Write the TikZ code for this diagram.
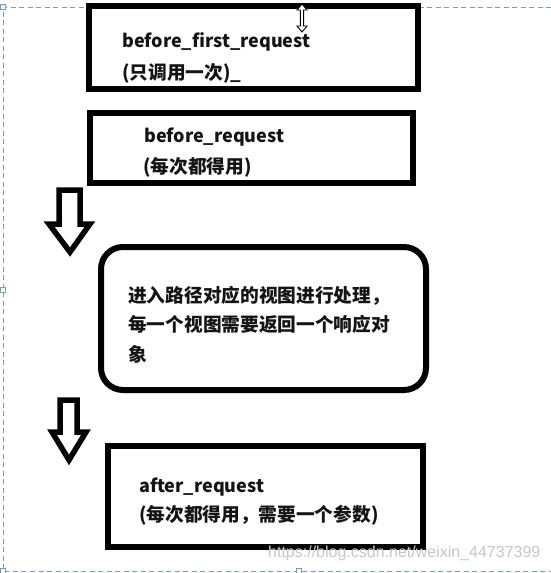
\documentclass[tikz,border=0pt]{standalone}
\usepackage{fontspec}
\newfontfamily\cjk{Noto Sans CJK SC}
\newfontfamily\wmfont{Liberation Sans}
\definecolor{selblue}{RGB}{120,155,190}
\definecolor{inkc}{RGB}{20,20,20}
\begin{document}
\begin{tikzpicture}[x=1pt,y=-1pt,
  boxstyle/.style={draw=black, line width=6pt, fill=white, inner sep=0pt},
  lat/.style={font=\cjk\bfseries\fontsize{18}{21}\selectfont, anchor=base west, inner sep=0pt, text=inkc},
  zh/.style={font=\cjk\bfseries\fontsize{18.7}{22}\selectfont, anchor=base west, inner sep=0pt, text=inkc},
  blockarrow/.style={draw=black, line width=5.5pt, line join=miter, fill=white},
  selframe/.style={draw=selblue, dash pattern=on 5pt off 3.5pt, line width=0.8pt},
  handle/.style={draw=selblue, fill=white, line width=0.7pt, minimum size=5pt, inner sep=0pt},
  wmark/.style={font=\wmfont\fontsize{16}{19}\selectfont, text=black!22, anchor=west, inner sep=0pt}
]
\useasboundingbox (0,0) rectangle (551,573);
\fill[white] (0,0) rectangle (551,573);
% selection frame
\draw[selframe] (551,7) -- (3,7) -- (3,571) -- (551,571);
% boxes
\node[boxstyle, minimum width=329pt, minimum height=83pt] (b1) at (253.5,47.5) {};
\node[boxstyle, minimum width=323pt, minimum height=70pt] (b2) at (251.5,148) {};
\node[boxstyle, rounded corners=22pt, minimum width=325pt, minimum height=143pt] (b3) at (263.5,318.5) {};
\node[boxstyle, minimum width=315pt, minimum height=101pt] (b4) at (265.5,496.5) {};
% texts
\node[lat] (t1a) at (122,47) {before\_first\_request};
\node[zh]  (t1b) at (122,79) {(只调用一次)\_};
\node[lat] (t2a) at (144,142) {before\_request};
\node[zh]  (t2b) at (143,173) {(每次都得用)};
\node[zh]  (t3a) at (128,302) {进入路径对应的视图进行处理，};
\node[zh]  (t3b) at (128,331) {每一个视图需要返回一个响应对};
\node[zh]  (t3c) at (128,361) {象};
\node[lat] (t4a) at (139,492) {after\_request};
\node[zh]  (t4b) at (139,521) {(每次都得用，需要一个参数)};
% block arrows
\coordinate (a1) at (70,190);
\draw[blockarrow] (59,190) -- (80,190) -- (80,224) -- (90,224) -- (70,252) -- (49,224) -- (59,224) -- cycle;
\coordinate (a2) at (69,400);
\draw[blockarrow] (60,400) -- (77,400) -- (77,432) -- (86,432) -- (69,460) -- (52,432) -- (60,432) -- cycle;
% resize cursor
\draw[fill=white, line width=0.9pt, line join=miter] (302,4) -- (307,10) -- (303.6,10) -- (303.6,26) -- (307,26) -- (302,32) -- (297,26) -- (300.4,26) -- (300.4,10) -- (297,10) -- cycle;
% handles
\node[handle] (h1) at (3,7) {};
\node[handle] (h2) at (3,290) {};
\node[handle] (h3) at (3,571) {};
\node[handle] (h4) at (299,571) {};
% watermark
\node[wmark] (wm) at (268,553) {https://blog.csdn.net/weixin\_44737399};
\end{tikzpicture}
\end{document}
